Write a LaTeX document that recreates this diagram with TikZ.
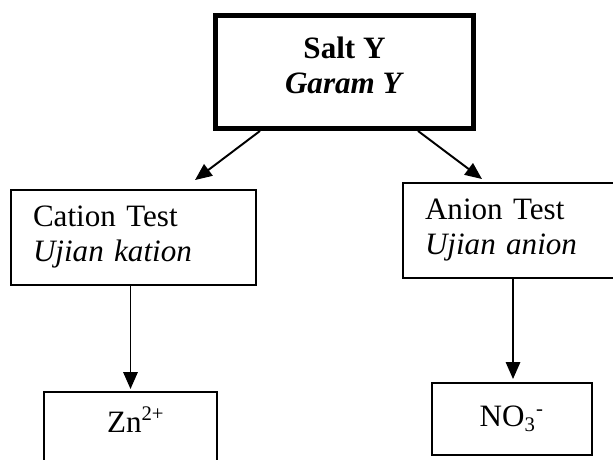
\documentclass[tikz,border=0pt]{standalone}
\usepackage{fontspec}
\setmainfont{Liberation Serif}
\usetikzlibrary{arrows.meta}
\newcommand{\px}{0.386pt}

\begin{document}
\begin{tikzpicture}[x=\px, y=-\px,
    every node/.style={font=\fontsize{12}{12.5}\selectfont},
    saltbox/.style={draw, line width=1.9pt, inner sep=0pt,
        minimum width=258*\px, minimum height=113*\px},
    testbox/.style={draw, line width=0.75pt, inner ysep=0pt, inner xsep=22*\px,
        align=left, minimum height=95*\px},
    ionbox/.style={draw, line width=0.75pt, inner sep=0pt, align=center,
        minimum height=72*\px},
    arr/.style={line width=0.75pt, -{Triangle[length=6.5pt,width=5.5pt]}}]

    \useasboundingbox (0,0) rectangle (613,459);
    \clip (0,0) rectangle (613,459);

    \node[saltbox] (salt) at (344.5,72) {};
    \node[align=center] (saltlabel) at (344.5,65)
        {\textbf{Salt Y}\\[1pt] \textbf{\textit{Garam Y}}};

    \node[testbox, text width=201*\px] (cation) at (133.5,237.5)
        {Cation Test\\[1pt] \textit{Ujian kation}};
    \node[testbox, text width=176*\px] (anion) at (513,230.5)
        {Anion Test\\[1pt] \textit{Ujian anion}};

    \node[ionbox, minimum width=173*\px] (zn) at (130.5,428) {};
    \node[anchor=base] (znlabel) at (136,432) {Zn\textsuperscript{2+}};
    \node[ionbox, minimum width=160*\px] (no3) at (512,419)
        {NO\textsubscript{3}\textsuperscript{-}};

    \draw[arr] ([xshift=-84.5*\px]salt.south) -- ([xshift=61.5*\px, yshift=9*\px]cation.north);
    \draw[arr] ([xshift=73.5*\px]salt.south) -- ([xshift=-31*\px, yshift=3*\px]anion.north);
    \draw[arr] (cation.south -| zn.north) -- ([yshift=2*\px]zn.north);
    \draw[arr] (anion.south) -- ([yshift=3*\px]anion.south |- no3.north);
\end{tikzpicture}
\end{document}
